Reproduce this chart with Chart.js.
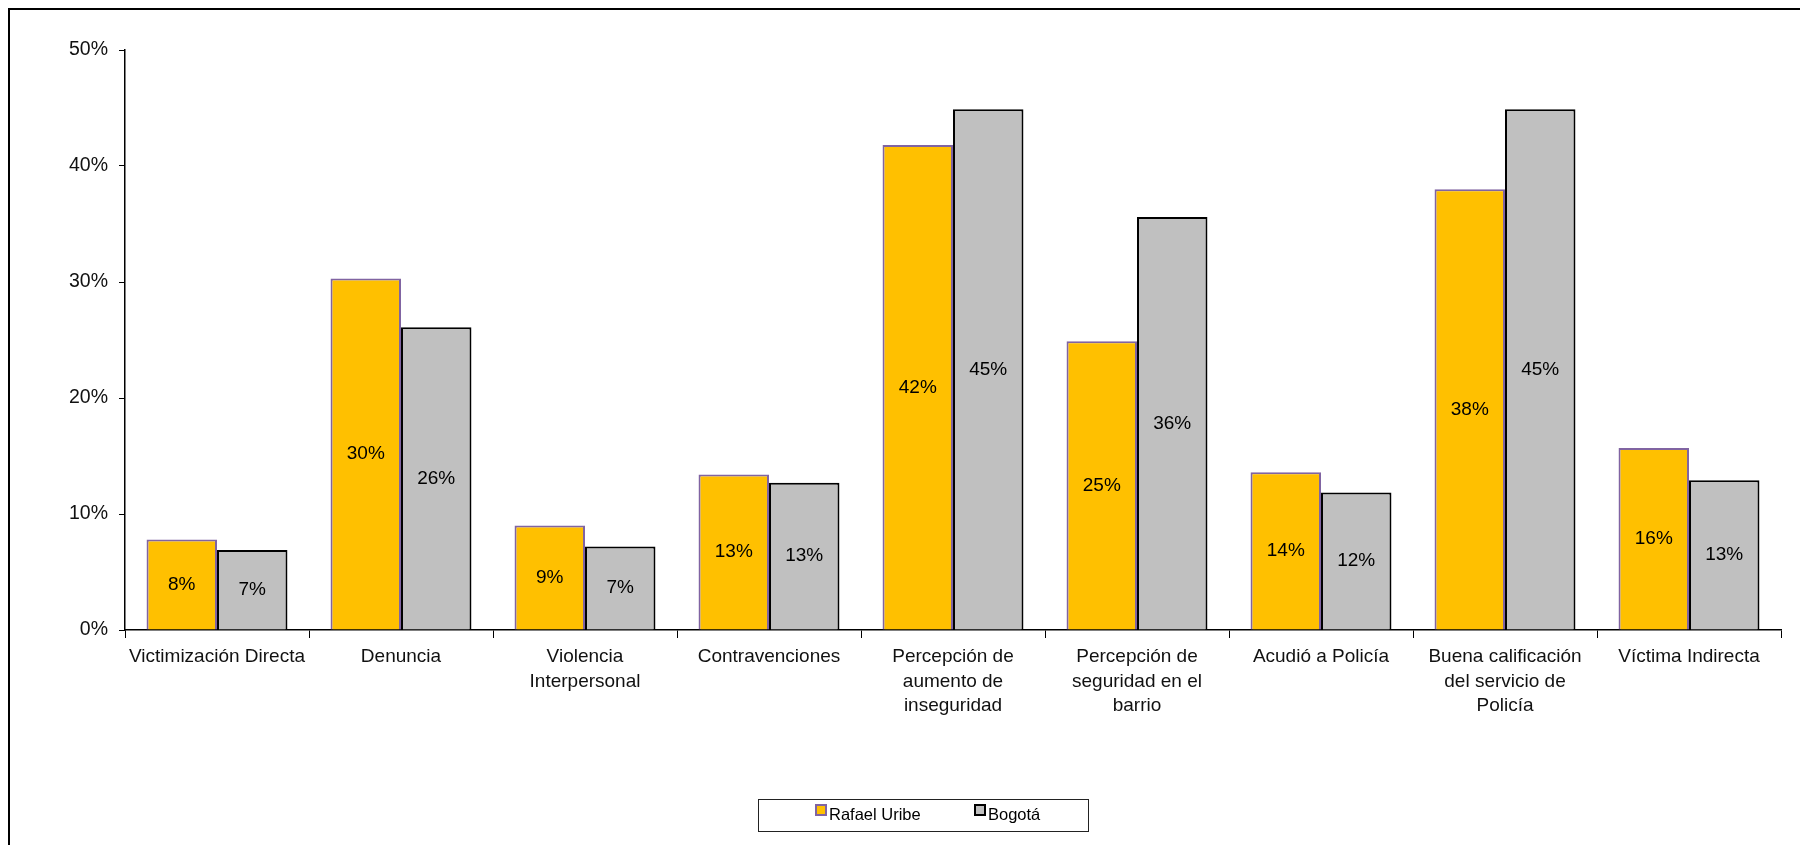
<!DOCTYPE html>
<html lang="es">
<head>
    <meta charset="UTF-8">
    <title>Rafael Uribe vs Bogotá</title>
    <script src="https://cdn.jsdelivr.net/npm/chart.js"></script>
    <style>
        body { margin: 0; background: #fff; }
        #wrap { width: 1800px; height: 845px; }
    </style>
</head>
<body>

<div id="wrap"><canvas id="mychart" width="1800" height="845"></canvas></div>

<script>
    // categories on the x axis (arrays = line breaks)
    const categorias = [
        "Victimización Directa",
        "Denuncia",
        ["Violencia", "Interpersonal"],
        "Contravenciones",
        ["Percepción de", "aumento de", "inseguridad"],
        ["Percepción de", "seguridad en el", "barrio"],
        "Acudió a Policía",
        ["Buena calificación", "del servicio de", "Policía"],
        "Víctima Indirecta"
    ];

    // values in %
    const rafaelUribe = [7.8, 30.3, 9.0, 13.4, 41.8, 24.9, 13.6, 38.0, 15.7];
    const bogota = [6.9, 26.1, 7.2, 12.7, 44.9, 35.6, 11.85, 44.9, 12.9];

    const yTicks = [0, 10, 20, 30, 40, 50];

    const fuente = '"Liberation Sans", Arial, sans-serif';

    // frame around the whole figure (only top and left are visible)
    const frame = {
        id: 'frame',
        beforeDraw(chart) {
            const ctx = chart.ctx;
            ctx.save();
            ctx.fillStyle = '#fff';
            ctx.fillRect(0, 0, chart.width, chart.height);
            ctx.strokeStyle = '#000';
            ctx.lineWidth = 2;
            ctx.beginPath();
            ctx.moveTo(9, chart.height);
            ctx.lineTo(9, 9);
            ctx.lineTo(chart.width, 9);
            ctx.stroke();
            ctx.restore();
        }
    };

    // percent labels in the middle of each bar
    const barLabels = {
        id: 'barLabels',
        afterDatasetsDraw(chart) {
            const ctx = chart.ctx;
            ctx.save();
            ctx.font = '19px ' + fuente;
            ctx.fillStyle = '#000';
            ctx.textAlign = 'center';
            ctx.textBaseline = 'middle';
            chart.data.datasets.forEach((ds, i) => {
                chart.getDatasetMeta(i).data.forEach((bar, j) => {
                    const mid = (bar.y + bar.base) / 2;
                    ctx.fillText(Math.round(ds.data[j]) + '%', bar.x, mid);
                });
            });
            ctx.restore();
        }
    };

    // boxed legend under the chart
    const boxLegend = {
        id: 'boxLegend',
        afterDraw(chart) {
            const ctx = chart.ctx;
            ctx.save();
            ctx.strokeStyle = '#222';
            ctx.lineWidth = 1;
            ctx.strokeRect(758.5, 799.5, 330, 32);
            ctx.font = '16.5px ' + fuente;
            ctx.textBaseline = 'middle';
            const xs = [816, 975];
            chart.data.datasets.forEach((ds, i) => {
                ctx.fillStyle = ds.backgroundColor;
                ctx.fillRect(xs[i], 805, 10, 10);
                ctx.strokeStyle = ds.borderColor;
                ctx.lineWidth = 2;
                ctx.strokeRect(xs[i], 805, 10, 10);
                ctx.fillStyle = '#000';
                ctx.fillText(ds.label, xs[i] + 13, 815);
            });
            ctx.restore();
        }
    };

    const setting = {
        type: 'bar',
        data: {
            labels: categorias,
            datasets: [{
                label: 'Rafael Uribe',
                data: rafaelUribe,
                backgroundColor: '#FFC000',
                borderColor: '#8064A2',
                borderWidth: 2,
                categoryPercentage: 0.766,
                barPercentage: 1.0
            }, {
                label: 'Bogotá',
                data: bogota,
                backgroundColor: '#C0C0C0',
                borderColor: '#000',
                borderWidth: 2,
                categoryPercentage: 0.766,
                barPercentage: 1.0
            }]
        },
        options: {
            responsive: false,
            animation: false,
            layout: { padding: { left: 0, right: 19, top: 50, bottom: 0 } },
            plugins: {
                legend: { display: false },
                tooltip: { enabled: false }
            },
            scales: {
                x: {
                    grid: { drawOnChartArea: false, tickLength: 8, color: '#000', offset: true },
                    border: { color: '#000', width: 1.5 },
                    ticks: {
                        autoSkip: false,
                        maxRotation: 0,
                        padding: 7,
                        color: '#111',
                        font: { family: fuente, size: 19, lineHeight: '24.5px' }
                    },
                    afterFit(scale) { scale.height = 215; }
                },
                y: {
                    min: 0,
                    max: 50,
                    grid: { drawOnChartArea: false, tickLength: 6, color: '#000' },
                    border: { color: '#000', width: 1.5 },
                    afterBuildTicks(scale) { scale.ticks = yTicks.map(v => ({ value: v })); },
                    ticks: {
                        padding: 11,
                        color: '#111',
                        font: { family: fuente, size: 19.5 },
                        callback: v => v + '%'
                    },
                    afterFit(scale) { scale.width = 125; }
                }
            }
        },
        plugins: [frame, barLabels, boxLegend]
    };

    new Chart(document.getElementById('mychart'), setting);
</script>
</body>
</html>
